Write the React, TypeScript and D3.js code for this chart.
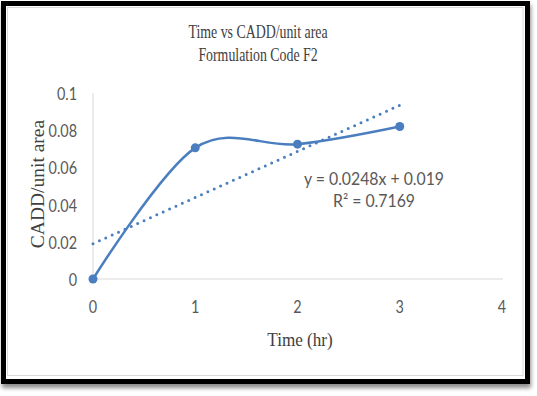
import React from "react";
import * as d3 from "d3";

const timeHr = [0, 1, 2, 3];
const caddPerArea = [0, 0.0705, 0.0725, 0.082];
const xTicks = [0, 1, 2, 3, 4];
const yTicks = [0, 0.02, 0.04, 0.06, 0.08, 0.1];
const yTickLabels = ["0", "0.02", "0.04", "0.06", "0.08", "0.1"];
const trendSlope = 0.0248;
const trendIntercept = 0.019;
const trendRange = [0, 3];
const titleLines = ["Time vs CADD/unit area", "Formulation Code F2"];
const xTitle = "Time (hr)";
const yTitle = "CADD/unit area";
const eqLines = ["y = 0.0248x + 0.019", "R² = 0.7169"];

const BLUE = "#4a7ebf";
const AXIS = "#d9d9d9";
const TXT = "#595959";

function SText({ x, y, sx = 1, rotate = 0, children, ...rest }: any) {
  return (
    <text transform={`translate(${x},${y}) scale(${sx},1) rotate(${rotate})`} {...rest}>
      {children}
    </text>
  );
}

export default function App() {
  const x = d3.scaleLinear().domain([0, 4]).range([93, 502]);
  const y = d3.scaleLinear().domain([0, 0.1]).range([279, 93]);
  const pts = timeHr.map((t, i) => [t, caddPerArea[i]] as [number, number]);
  const line = d3
    .line<[number, number]>()
    .x((d) => x(d[0]))
    .y((d) => y(d[1]))
    .curve(d3.curveCardinal.tension(0));
  const trend = trendRange.map((t) => [t, trendIntercept + trendSlope * t] as [number, number]);
  const trendLine = d3
    .line<[number, number]>()
    .x((d) => x(d[0]))
    .y((d) => y(d[1]));

  return (
    <svg
      width={537}
      height={396}
      style={{ position: "absolute", left: 0, top: 0, background: "#fff" }}
    >
      <defs>
        <filter id="sh" x="-5%" y="-5%" width="115%" height="115%">
          <feGaussianBlur in="SourceAlpha" stdDeviation="2" />
          <feOffset dx="1" dy="4" result="b" />
          <feComponentTransfer>
            <feFuncA type="linear" slope="0.45" />
          </feComponentTransfer>
          <feMerge>
            <feMergeNode />
            <feMergeNode in="SourceGraphic" />
          </feMerge>
        </filter>
      </defs>
      <rect x={3.5} y={3.5} width={524} height={378} fill="#fff" stroke="#000" strokeWidth={5} filter="url(#sh)" />
      <rect x={7.5} y={7.5} width={515.5} height={368} fill="none" stroke="#d9d9d9" strokeWidth={1} />

      {/* titles */}
      <g fontFamily="'Liberation Serif', 'Times New Roman', serif" fill="#404040" textAnchor="middle">
        <SText x={258} y={38} sx={0.77} fontSize={18}>{titleLines[0]}</SText>
        <SText x={258} y={61} sx={0.77} fontSize={18}>{titleLines[1]}</SText>
        <SText x={300} y={346} sx={0.9} fontSize={19}>{xTitle}</SText>
        <SText x={44} y={184} sx={1} rotate={-90} fontSize={19.5}>{yTitle}</SText>
      </g>

      {/* axes */}
      <line x1={x(0)} x2={x(0)} y1={y(0.1)} y2={y(0)} stroke={AXIS} strokeWidth={1} />
      <line x1={x(0)} x2={x(4) + 1} y1={y(0)} y2={y(0)} stroke={AXIS} strokeWidth={1} />

      <g fontFamily="Lato, 'Open Sans', sans-serif" fill={TXT} fontSize={18}>
        {yTicks.map((v, i) => (
          <SText key={i} x={77} y={y(v) + 7} sx={0.8} textAnchor="end">
            {yTickLabels[i]}
          </SText>
        ))}
        {xTicks.map((v) => (
          <SText key={v} x={x(v)} y={313} sx={0.8} textAnchor="middle">
            {String(v)}
          </SText>
        ))}
      </g>

      {/* trendline */}
      <path
        d={trendLine(trend) || ""}
        fill="none"
        stroke={BLUE}
        strokeWidth={3}
        strokeDasharray="0 7"
        strokeLinecap="round"
      />
      {/* series */}
      <path d={line(pts) || ""} fill="none" stroke={BLUE} strokeWidth={2.5} />
      {pts.map((p, i) => (
        <circle key={i} cx={x(p[0])} cy={y(p[1])} r={4.5} fill={BLUE} />
      ))}

      <g fontFamily="Lato, 'Open Sans', sans-serif" fill={TXT} fontSize={17} textAnchor="middle">
        <SText x={374} y={185} sx={0.93}>{eqLines[0]}</SText>
        <SText x={374} y={207} sx={0.93}>{eqLines[1]}</SText>
      </g>
    </svg>
  );
}
